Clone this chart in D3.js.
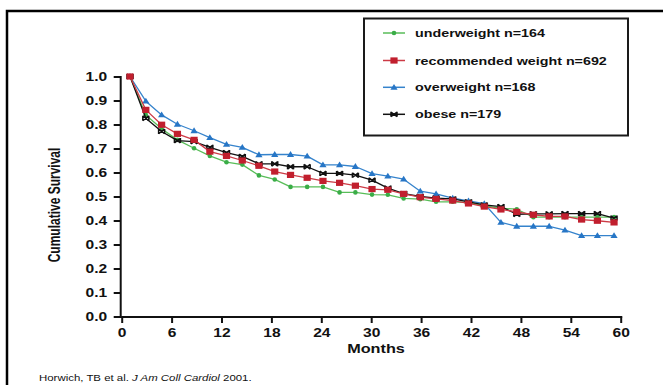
<!DOCTYPE html>
<html>
<head>
<meta charset="utf-8">
<script src="https://cdn.jsdelivr.net/npm/d3@7"></script>
<style>
  html, body { margin: 0; padding: 0; background: #fff; }
  svg { display: block; }
  text { font-family: "Liberation Sans", Arial, sans-serif; fill: #111; }
</style>
</head>
<body>
<div id="chart"></div>
<script>
// months at which the survival estimates are plotted
const months = [1.0, 2.9, 4.8, 6.7, 8.7, 10.6, 12.6, 14.5, 16.5, 18.4, 20.3, 22.3, 24.2, 26.2, 28.1,
  30.1, 32.0, 33.9, 35.9, 37.8, 39.8, 41.7, 43.6, 45.6, 47.5, 49.5, 51.4, 53.3, 55.3, 57.2, 59.2]
const underweight = [1.00, 0.840, 0.782, 0.736, 0.701, 0.669, 0.643, 0.633, 0.588, 0.571, 0.540, 0.540, 0.540, 0.517, 0.517,
  0.508, 0.507, 0.492, 0.489, 0.478, 0.478, 0.475, 0.461, 0.451, 0.447, 0.414, 0.414, 0.414, 0.414, 0.414, 0.414]
const recommended = [1.00, 0.861, 0.799, 0.761, 0.736, 0.687, 0.669, 0.650, 0.628, 0.604, 0.590, 0.578, 0.565, 0.557, 0.545,
  0.531, 0.528, 0.511, 0.497, 0.490, 0.483, 0.471, 0.458, 0.446, 0.436, 0.424, 0.417, 0.417, 0.404, 0.399, 0.392]
const overweight = [1.00, 0.897, 0.840, 0.801, 0.774, 0.745, 0.717, 0.705, 0.674, 0.675, 0.675, 0.668, 0.632, 0.632, 0.625,
  0.595, 0.585, 0.572, 0.522, 0.511, 0.493, 0.482, 0.470, 0.392, 0.376, 0.376, 0.376, 0.360, 0.337, 0.337, 0.337]
const obese = [1.00, 0.826, 0.771, 0.733, 0.729, 0.705, 0.683, 0.667, 0.636, 0.636, 0.624, 0.624, 0.596, 0.596, 0.589,
  0.568, 0.535, 0.512, 0.500, 0.493, 0.490, 0.478, 0.465, 0.458, 0.426, 0.428, 0.428, 0.429, 0.429, 0.429, 0.410]
const xTicks = [0, 6, 12, 18, 24, 30, 36, 42, 48, 54, 60]
const yTicks = [0, 0.1, 0.2, 0.3, 0.4, 0.5, 0.6, 0.7, 0.8, 0.9, 1.0]

const width = 663, height = 385
const stretch = 1.3 // the picture is wider than tall, text looks stretched

const series = [
  { name: "underweight n=164", values: underweight, line: "#58bd58", fill: "#3aad47", shape: "dot" },
  { name: "recommended weight n=692", values: recommended, line: "#cc3a45", fill: "#c11f2e", shape: "square" },
  { name: "overweight n=168", values: overweight, line: "#3583cc", fill: "#2776c6", shape: "triangle" },
  { name: "obese n=179", values: obese, line: "#111111", fill: "#111111", shape: "cross" }
]
const drawOrder = [2, 0, 3, 1]

const xScale = d3.scaleLinear().domain([0, 60]).range([121.7, 620.7])
const yScale = d3.scaleLinear().domain([0, 1]).range([316.5, 76.5])

const svg = d3.select("#chart").append("svg")
  .attr("width", width)
  .attr("height", height)
  .attr("viewBox", [0, 0, width, height])

// outer frame (only top and left visible)
svg.append("path")
  .attr("d", "M7,400V11H680")
  .attr("fill", "none")
  .attr("stroke", "#000")
  .attr("stroke-width", 2.5)

function marker(g, shape, s) {
  if (shape === "dot") {
    g.append("circle").attr("r", 2.3).attr("fill", s.fill)
  } else if (shape === "square") {
    g.append("rect").attr("x", -3.6).attr("y", -3.1).attr("width", 7.2).attr("height", 6.2).attr("fill", s.fill)
  } else if (shape === "triangle") {
    g.append("path").attr("d", "M0,-3.4L3.6,2.4L-3.6,2.4Z").attr("fill", s.fill)
  } else {
    g.append("path")
      .attr("d", "M-3,-2.3L3,2.3M-3,2.3L3,-2.3M-3,-2.5V2.5M3,-2.5V2.5")
      .attr("stroke", s.fill)
      .attr("stroke-width", 1.5)
      .attr("fill", "none")
  }
}

// axes
const yAxis = d3.axisLeft(yScale).tickValues(yTicks).tickFormat(d3.format(".1f")).tickSize(6.5).tickSizeOuter(0)
const xAxis = d3.axisBottom(xScale).tickValues(xTicks).tickFormat(d3.format("d")).tickSize(6.5).tickSizeOuter(0)

const gy = svg.append("g").attr("transform", `translate(${xScale(0) - 1.5},0)`).call(yAxis)
gy.select(".domain").attr("stroke", "#111").attr("stroke-width", 2)
gy.selectAll(".tick line").attr("stroke", "#111").attr("stroke-width", 2)
gy.selectAll(".tick text")
  .attr("x", 0).attr("dy", null)
  .attr("transform", `translate(-13,4.2) scale(${stretch},1)`)
  .attr("text-anchor", "end")
  .style("font-size", "12px").style("font-weight", "bold")

const gx = svg.append("g").attr("transform", `translate(0,${yScale(0)})`).call(xAxis)
gx.select(".domain").attr("stroke", "#111").attr("stroke-width", 2)
gx.selectAll(".tick line").attr("stroke", "#111").attr("stroke-width", 2)
gx.selectAll(".tick text")
  .attr("y", 0).attr("dy", null)
  .attr("transform", `translate(0,20.5) scale(${stretch},1)`)
  .style("font-size", "12px").style("font-weight", "bold")
svg.selectAll(".domain").attr("stroke-linecap", "square")

// axis titles
svg.append("text")
  .attr("transform", `translate(376,353) scale(${stretch},1)`)
  .attr("text-anchor", "middle")
  .style("font-size", "12.5px").style("font-weight", "bold")
  .text("Months")

svg.append("text")
  .attr("transform", `translate(60,205) scale(${stretch},1) rotate(-90)`)
  .attr("text-anchor", "middle")
  .style("font-size", "12px").style("font-weight", "bold")
  .text("Cumulative Survival")

// lines + markers
drawOrder.forEach(k => {
  const s = series[k]
  const path = d3.line().x((d, i) => xScale(months[i])).y(d => yScale(d))
  svg.append("path")
    .attr("d", path(s.values))
    .attr("fill", "none")
    .attr("stroke", s.line)
    .attr("stroke-width", 1.3)
    .attr("stroke-linejoin", "round")
  const g = svg.append("g")
  s.values.forEach((v, i) => {
    const m = g.append("g").attr("transform", `translate(${xScale(months[i])},${yScale(v)})`)
    marker(m, s.shape, s)
  })
})

// legend
const legend = svg.append("g")
legend.append("rect")
  .attr("x", 364).attr("y", 18.5)
  .attr("width", 264).attr("height", 117)
  .attr("fill", "#fff")
  .attr("stroke", "#1a1a1a")
  .attr("stroke-width", 2)
const legendY = [33, 60.5, 87.3, 114.3]
series.forEach((s, i) => {
  const y = legendY[i]
  legend.append("line")
    .attr("x1", 383).attr("x2", 405).attr("y1", y).attr("y2", y)
    .attr("stroke", s.line).attr("stroke-width", 1.5)
  const m = legend.append("g").attr("transform", `translate(394,${y})`)
  marker(m, s.shape, s)
  legend.append("text")
    .attr("transform", `translate(415,${y + 4}) scale(${stretch},1)`)
    .style("font-size", "11px").style("font-weight", "bold")
    .text(s.name)
})

// source
const src = svg.append("text")
  .attr("transform", `translate(39,381) scale(${stretch},1)`)
  .style("font-size", "8.8px")
src.append("tspan").text("Horwich, TB et al. ")
src.append("tspan").style("font-style", "italic").text("J Am Coll Cardiol")
src.append("tspan").text(" 2001.")
</script>
</body>
</html>
